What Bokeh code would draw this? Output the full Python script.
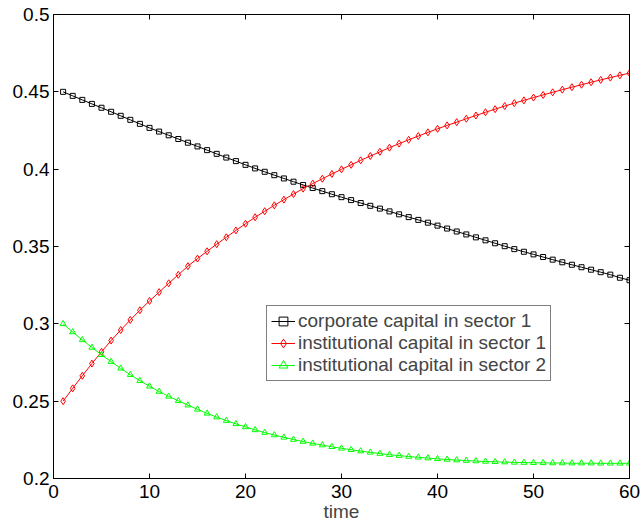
from bokeh.plotting import figure
from bokeh.models import Range1d, FixedTicker, LinearAxis, Legend, LegendItem
from bokeh.embed import file_html
from bokeh.resources import INLINE

time = list(range(1, 61))

corporate_s1 = [
    0.4500, 0.4474, 0.4448, 0.4422, 0.4397, 0.4371, 0.4345, 0.4319, 0.4293, 0.4267,
    0.4243, 0.4219, 0.4195, 0.4171, 0.4147, 0.4123, 0.4099, 0.4075, 0.4052, 0.4028,
    0.4005, 0.3983, 0.3961, 0.3940, 0.3919, 0.3898, 0.3878, 0.3858, 0.3838, 0.3819,
    0.3800, 0.3781, 0.3763, 0.3745, 0.3727, 0.3708, 0.3690, 0.3672, 0.3654, 0.3635,
    0.3616, 0.3597, 0.3578, 0.3559, 0.3540, 0.3521, 0.3502, 0.3483, 0.3466, 0.3449,
    0.3432, 0.3415, 0.3398, 0.3382, 0.3366, 0.3350, 0.3334, 0.3318, 0.3298, 0.3282,
]

institutional_s1 = [
    0.2500, 0.2583, 0.2664, 0.2743, 0.2819, 0.2892, 0.2960, 0.3025, 0.3088, 0.3148,
    0.3205, 0.3262, 0.3317, 0.3373, 0.3422, 0.3469, 0.3515, 0.3560, 0.3604, 0.3647,
    0.3689, 0.3728, 0.3766, 0.3803, 0.3839, 0.3874, 0.3907, 0.3938, 0.3969, 0.3999,
    0.4028, 0.4057, 0.4085, 0.4112, 0.4139, 0.4165, 0.4190, 0.4214, 0.4238, 0.4261,
    0.4283, 0.4304, 0.4326, 0.4347, 0.4368, 0.4388, 0.4408, 0.4427, 0.4445, 0.4463,
    0.4480, 0.4497, 0.4514, 0.4530, 0.4546, 0.4562, 0.4577, 0.4592, 0.4607, 0.4621,
]

institutional_s2 = [
    0.3000, 0.2947, 0.2896, 0.2847, 0.2800, 0.2755, 0.2712, 0.2671, 0.2632, 0.2596,
    0.2562, 0.2531, 0.2502, 0.2474, 0.2447, 0.2421, 0.2397, 0.2374, 0.2353, 0.2333,
    0.2314, 0.2297, 0.2281, 0.2266, 0.2252, 0.2239, 0.2227, 0.2216, 0.2205, 0.2195,
    0.2186, 0.2177, 0.2169, 0.2161, 0.2154, 0.2148, 0.2142, 0.2137, 0.2132, 0.2127,
    0.2123, 0.2119, 0.2116, 0.2113, 0.2110, 0.2108, 0.2106, 0.2104, 0.2103, 0.2102,
    0.2101, 0.2100, 0.2100, 0.2099, 0.2099, 0.2099, 0.2098, 0.2098, 0.2098, 0.2098,
]

x_ticks = [0, 10, 20, 30, 40, 50, 60]
y_ticks = [0.2, 0.25, 0.3, 0.35, 0.4, 0.45, 0.5]
y_tick_labels = ["0.2", "0.25", "0.3", "0.35", "0.4", "0.45", "0.5"]

labels = [
    "corporate capital in sector 1",
    "institutional capital in sector 1",
    "institutional capital in sector 2",
]

FONT = "Liberation Sans"
FS = "19px"

p = figure(width=641, height=524, output_backend="svg", toolbar_location=None,
           x_range=Range1d(0, 60), y_range=Range1d(0.2, 0.5),
           min_border_left=53, min_border_right=12, min_border_top=14, min_border_bottom=46)
p.xgrid.visible = False
p.ygrid.visible = False
p.outline_line_color = "black"
p.outline_line_width = 1
p.background_fill_color = "white"
p.border_fill_color = "white"

def style_axis(ax, show_labels):
    ax.major_tick_in = 5
    ax.major_tick_out = 0
    ax.minor_tick_in = 0
    ax.minor_tick_out = 0
    ax.axis_line_color = "black"
    ax.major_tick_line_color = "black"
    ax.major_label_text_font = FONT
    ax.major_label_text_font_size = FS
    ax.major_label_text_color = "black" if show_labels else None
    ax.axis_label_text_font = FONT
    ax.axis_label_text_font_size = FS
    ax.axis_label_text_font_style = "normal"

xa = p.xaxis[0]
xa.ticker = FixedTicker(ticks=x_ticks)
xa.axis_label = "time"
xa.axis_label_standoff = 0
xa.major_label_standoff = 6
style_axis(xa, True)

ya = p.yaxis[0]
ya.ticker = FixedTicker(ticks=y_ticks)
ya.major_label_overrides = {t: l for t, l in zip(y_ticks, y_tick_labels)}
ya.major_label_standoff = 4
style_axis(ya, True)

top = LinearAxis(ticker=FixedTicker(ticks=x_ticks))
style_axis(top, False)
p.add_layout(top, "above")
right = LinearAxis(ticker=FixedTicker(ticks=y_ticks))
style_axis(right, False)
p.add_layout(right, "right")
top.major_label_text_font_size = "0px"
right.major_label_text_font_size = "0px"
top.major_label_standoff = 0
right.major_label_standoff = 0

l1 = p.line(time, corporate_s1, line_color="black", line_width=1)
m1 = p.scatter(time, corporate_s1, marker="square", size=5, line_color="black",
               fill_color=None, line_width=1)
l2 = p.line(time, institutional_s1, line_color="#ff0000", line_width=1)
m2 = p.scatter(time, institutional_s1, marker="diamond", size=7, line_color="#ff0000",
               fill_color=None, line_width=1)
l3 = p.line(time, institutional_s2, line_color="#00ff00", line_width=1)
m3 = p.scatter(time, institutional_s2, marker="triangle", size=6, line_color="#00ff00",
               fill_color=None, line_width=1)

legend = Legend(items=[
    LegendItem(label=labels[0], renderers=[l1, m1]),
    LegendItem(label=labels[1], renderers=[l2, m2]),
    LegendItem(label=labels[2], renderers=[l3, m3]),
], location=(213, 97))
legend.label_text_font = FONT
legend.label_text_font_size = FS
legend.label_height = 22
legend.glyph_height = 22
legend.glyph_width = 24
legend.spacing = 0
legend.padding = 4
legend.margin = 0
legend.label_standoff = 3
legend.border_line_color = "black"
legend.border_line_width = 1
legend.background_fill_alpha = 1
p.add_layout(legend, "center")

open("out.html", "w").write(file_html(p, INLINE))
